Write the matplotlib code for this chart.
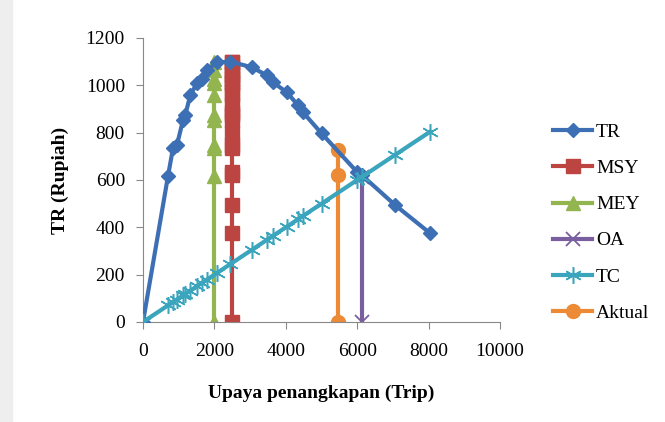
import matplotlib.pyplot as plt
from matplotlib.patches import Rectangle

# Données
effort = [0, 700, 840, 950, 1120, 1180, 1330, 1510, 1650, 1790, 2070, 2450,
          3050, 3470, 3640, 4030, 4340, 4480, 5000, 6000, 6130, 7060, 8040]
tr = [0, 616, 734, 747, 852, 873, 960, 1008, 1025, 1063, 1097, 1100,
      1076, 1042, 1013, 970, 916, 886, 797, 633, 620, 494, 375]
tc = [0, 70, 84, 95, 112, 118, 133, 151, 165, 179, 207, 245,
      305, 347, 364, 403, 434, 448, 500, 600, 613, 706, 804]

msy_x = 2500
msy_y = [0, 375, 494, 620, 633, 734, 747, 797, 852, 873, 886, 916, 960,
         970, 1008, 1013, 1025, 1042, 1063, 1076, 1097, 1100]
mey_x = 2000
mey_y = [0, 616, 734, 747, 852, 873, 960, 1008, 1025, 1063, 1097]
oa_x = 6130
oa_y = [0, 613]
aktual_x = 5460
aktual_y = [0, 620, 726]

plt.rcParams['font.family'] = 'Liberation Serif'

fig = plt.figure(figsize=(6.65, 4.22), dpi=100)
fig.patches.append(Rectangle((0, 0), 0.018, 1, transform=fig.transFigure,
                             color='#eeeeee', zorder=0))
ax = fig.add_axes([0.215, 0.237, 0.537, 0.673])

lw = 3
ax.plot(effort, tr, color='#3d6fb5', lw=lw, marker='D', ms=7.5, label='TR', zorder=3)
ax.plot([msy_x] * len(msy_y), msy_y, color='#bd4541', lw=lw, marker='s', ms=9.5, label='MSY', zorder=2)
ax.plot([mey_x] * len(mey_y), mey_y, color='#92b550', lw=lw, marker='^', ms=10, label='MEY', zorder=2)
ax.plot([oa_x] * len(oa_y), oa_y, color='#7a5fa0', lw=lw, marker='x', ms=10, mew=1.3, label='OA', zorder=2)
ax.plot(effort, tc, color='#3aa5bd', lw=lw, marker=(6, 2, 0), ms=12, mew=1.1, label='TC', zorder=4)
ax.plot([aktual_x] * len(aktual_y), aktual_y, color='#ec8a35', lw=lw, marker='o', ms=10, label='Aktual', zorder=2)

ax.set_xlim(0, 10000)
ax.set_ylim(0, 1200)
ax.set_xticks(range(0, 10001, 2000))
ax.set_yticks(range(0, 1201, 200))
ax.tick_params(labelsize=14, color='#888888', length=5)
ax.tick_params(axis='x', pad=10)
ax.tick_params(axis='y', pad=8)
for s in ['top', 'right']:
    ax.spines[s].set_visible(False)
for s in ['left', 'bottom']:
    ax.spines[s].set_color('#888888')
ax.set_xlabel('Upaya penangkapan (Trip)', fontsize=14, fontweight='bold', labelpad=18)
ax.set_ylabel('TR (Rupiah)', fontsize=14, fontweight='bold', labelpad=12)

ax.legend(loc='center left', bbox_to_anchor=(1.1, 0.35), frameon=False, fontsize=14,
          handlelength=2.0, handletextpad=0.2, labelspacing=0.95)

plt.savefig('out.png', dpi=100)
